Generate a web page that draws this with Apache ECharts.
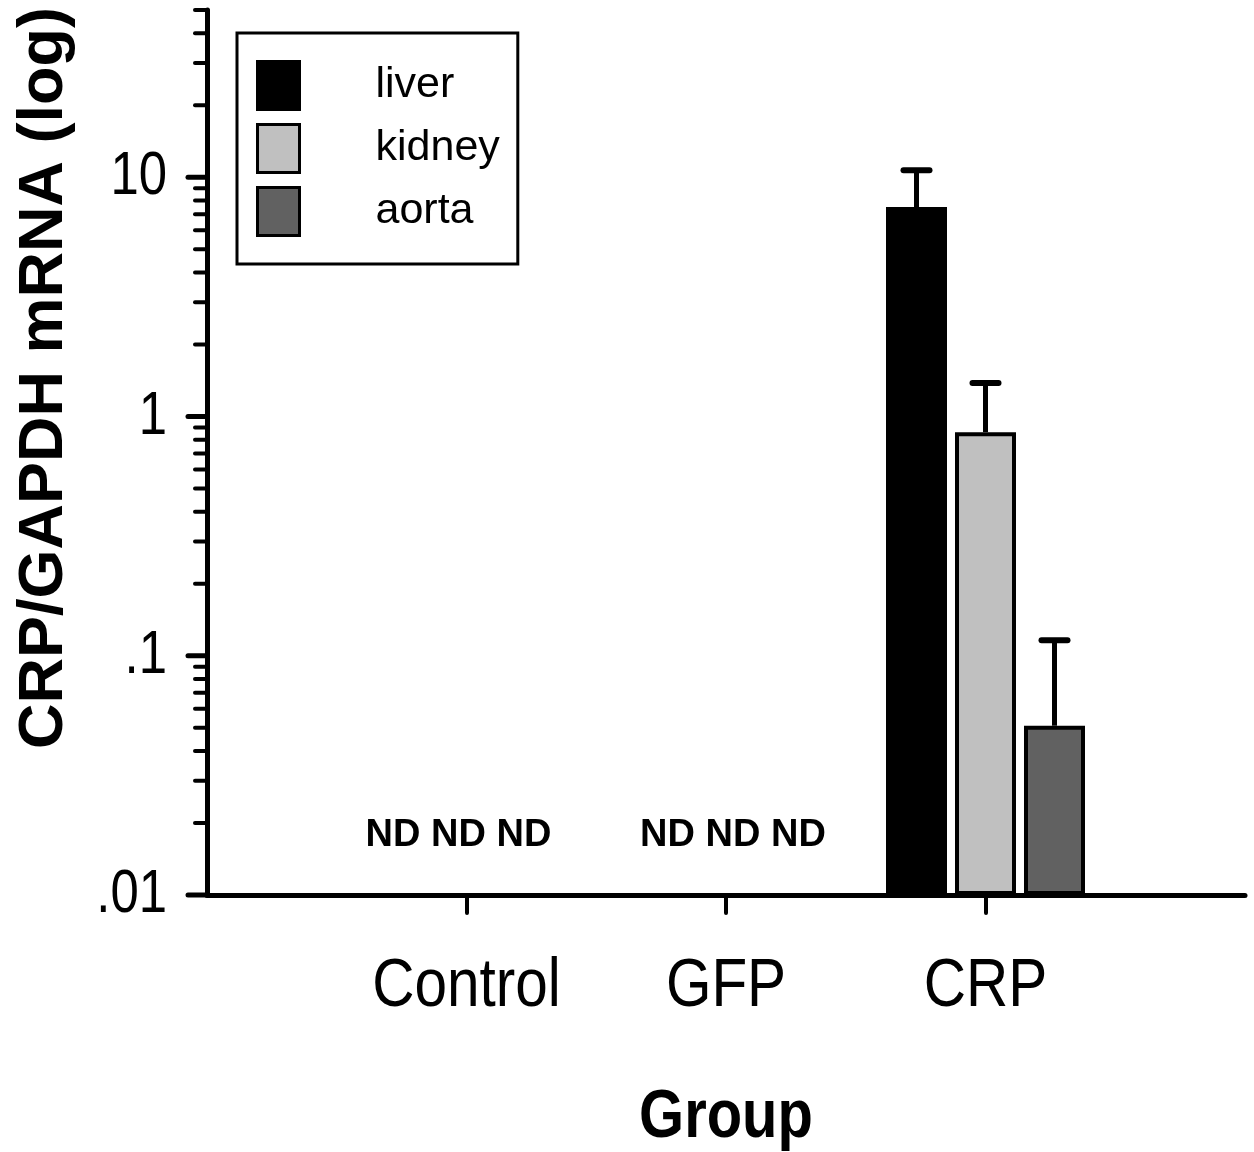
<!DOCTYPE html>
<html>
<head>
<meta charset="utf-8">
<script src="https://cdn.jsdelivr.net/npm/echarts@6/dist/echarts.min.js"></script>
<style>
  html, body { margin: 0; padding: 0; background: #fff; }
  #chart { width: 1254px; height: 1152px; }
</style>
</head>
<body>
<div id="chart"></div>
<script>
// Groups on the x axis (blank slots pad both ends of the axis)
const groups = ['', 'Control', 'GFP', 'CRP', ''];
const tissues = ['liver', 'kidney', 'aorta'];
const xTitle = 'Group';
const yTitle = 'CRP/GAPDH mRNA (log)';

// CRP/GAPDH mRNA means per group (null = not detected)
const liverMean  = [null, null, null, 7.5,   null];
const kidneyMean = [null, null, null, 0.86,  null];
const aortaMean  = [null, null, null, 0.051, null];

// Upper end of the error bars
const liverUpper  = [null, null, null, 10.7,  null];
const kidneyUpper = [null, null, null, 1.38,  null];
const aortaUpper  = [null, null, null, 0.116, null];

// "not detected" markers per group
const ndGroups = ['Control', 'GFP'];
const ndText = ['ND', 'ND', 'ND'];

// y axis (log) ticks and labels
const yMin = 0.01, yMax = 50;
const yTickValues = [0.01, 0.1, 1, 10];
const yTickLabels = ['.01', '.1', '1', '10'];
const yMinorTicks = [0.02, 0.03, 0.04, 0.05, 0.06, 0.07, 0.08, 0.09,
                     0.2, 0.3, 0.4, 0.5, 0.6, 0.7, 0.8, 0.9,
                     2, 3, 4, 5, 6, 7, 8, 9,
                     20, 30, 40, 50];

// styling
const SANS = "'Liberation Sans', Arial, sans-serif";
const colors = { liver: '#000000', kidney: '#c0c0c0', aorta: '#616161' };
const BAR_W = 61, BAR_SPACE = 8, CAP_W = 26;
const ND_SHIFT = { Control: -8, GFP: 7 };

const means = [liverMean, kidneyMean, aortaMean];
const uppers = [liverUpper, kidneyUpper, aortaUpper];

const barSeries = tissues.map((t, k) => ({
  name: t,
  type: 'bar',
  data: means[k],
  barWidth: BAR_W,
  barGap: (BAR_SPACE / BAR_W * 100).toFixed(2) + '%',
  itemStyle: { color: colors[t], borderColor: '#000', borderWidth: 4 },
  emphasis: { disabled: true },
  z: 2
}));

const errData = [];
tissues.forEach((t, k) => {
  means[k].forEach((m, i) => {
    if (m != null) errData.push([i, m, uppers[k][i], k]);
  });
});

function renderErr(params, api) {
  const cat = api.value(0), k = api.value(3);
  const base = api.coord([cat, api.value(1)]);
  const top = api.coord([cat, api.value(2)]);
  const x = base[0] + (k - 1) * (BAR_W + BAR_SPACE);
  return {
    type: 'group',
    children: [
      { type: 'line', shape: { x1: x, y1: base[1], x2: x, y2: top[1] },
        style: { stroke: '#000', lineWidth: 5 } },
      { type: 'line', shape: { x1: x - CAP_W / 2, y1: top[1], x2: x + CAP_W / 2, y2: top[1] },
        style: { stroke: '#000', lineWidth: 6, lineCap: 'round' } }
    ]
  };
}

function tickRenderer(len, width) {
  return function (params, api) {
    const p = api.coord([0, api.value(1)]);
    return {
      type: 'line',
      shape: { x1: p[0] - len, y1: p[1], x2: p[0], y2: p[1] },
      style: { stroke: '#000', lineWidth: width, lineCap: 'round' }
    };
  };
}

// narrow text element (regular face squeezed horizontally)
function narrowText(x, y, text, font, align, squeeze) {
  return {
    type: 'text', x: x, y: y, scaleX: squeeze,
    style: { x: 0, y: 0, text: text, font: font, fill: '#000',
             align: align || 'center', verticalAlign: 'middle' }
  };
}

function renderYLabel(params, api) {
  const v = api.value(1);
  const p = api.coord([0, v]);
  return narrowText(p[0] - 40, p[1], yTickLabels[yTickValues.indexOf(v)], '62px ' + SANS, 'right', 0.82);
}

function renderXLabel(params, api) {
  const cat = api.value(0);
  const p = api.coord([cat, yMin]);
  return narrowText(p[0], p[1] + 92, groups[cat], '68px ' + SANS, 'center', 0.86);
}

function renderXTitle(params, api) {
  const a = api.coord([0, yMin]);
  const b = api.coord([groups.length - 1, yMin]);
  return narrowText((a[0] + b[0]) / 2, a[1] + 223, xTitle, 'bold 69px ' + SANS, 'center', 0.84);
}

function renderND(params, api) {
  const cat = api.value(0);
  const p = api.coord([cat, yMin]);
  return {
    type: 'text',
    style: {
      x: p[0] + (ND_SHIFT[groups[cat]] || 0), y: p[1] - 59,
      text: ndText.join(' '),
      align: 'center', verticalAlign: 'middle',
      font: 'bold 38px ' + SANS, fill: '#000'
    }
  };
}

const chart = echarts.init(document.getElementById('chart'), null, { renderer: 'canvas' });

chart.setOption({
  animation: false,
  backgroundColor: '#fff',
  grid: { left: 207, right: 9, top: 10, bottom: 257, outerBoundsMode: 'none', containLabel: false },
  legend: {
    data: tissues,
    orient: 'vertical',
    left: 237, top: 33,
    itemWidth: 42, itemHeight: 48, itemGap: 12,
    padding: [27, 18, 27, 19],
    borderColor: '#000', borderWidth: 3,
    selectedMode: false,
    icon: 'rect',
    itemStyle: { borderColor: '#000', borderWidth: 3 },
    textStyle: { fontSize: 43, fontFamily: SANS, color: '#000', padding: [0, 0, 0, 71] }
  },
  xAxis: {
    type: 'category',
    data: groups,
    boundaryGap: false,
    axisLine: { lineStyle: { color: '#000', width: 5 } },
    axisTick: {
      show: true, length: 18,
      interval: (i) => i >= 1 && i <= 3,
      lineStyle: { color: '#000', width: 4, cap: 'round' }
    },
    axisLabel: { show: false },
    splitLine: { show: false }
  },
  yAxis: {
    type: 'log',
    logBase: 10,
    min: yMin, max: yMax,
    startValue: yMin,
    name: yTitle,
    nameLocation: 'middle',
    nameGap: 131,
    nameTextStyle: { fontSize: 63, fontWeight: 'bold', fontFamily: SANS, color: '#000', padding: [0, 0, 0, 149] },
    axisLine: { show: true, lineStyle: { color: '#000', width: 5 } },
    axisTick: { show: false },
    splitLine: { show: false },
    axisLabel: { show: false }
  },
  series: [
    ...barSeries,
    { type: 'custom', name: 'error', renderItem: renderErr, data: errData, clip: false, z: 3 },
    { type: 'custom', name: 'majorTicks', renderItem: tickRenderer(19, 5), clip: false, z: 4,
      data: yTickValues.map(v => [0, v]) },
    { type: 'custom', name: 'minorTicks', renderItem: tickRenderer(12, 4), clip: false, z: 4,
      data: yMinorTicks.map(v => [0, v]) },
    { type: 'custom', name: 'yLabels', renderItem: renderYLabel, clip: false, z: 4,
      data: yTickValues.map(v => [0, v]) },
    { type: 'custom', name: 'xLabels', renderItem: renderXLabel, clip: false, z: 4,
      data: groups.map((g, i) => [i, yMin]).filter(d => groups[d[0]] !== '') },
    { type: 'custom', name: 'xTitle', renderItem: renderXTitle, clip: false, z: 4,
      data: [[0, yMin]] },
    { type: 'custom', name: 'nd', renderItem: renderND, clip: false, z: 4,
      data: ndGroups.map(g => [groups.indexOf(g), yMin]) }
  ]
});
</script>
</body>
</html>
